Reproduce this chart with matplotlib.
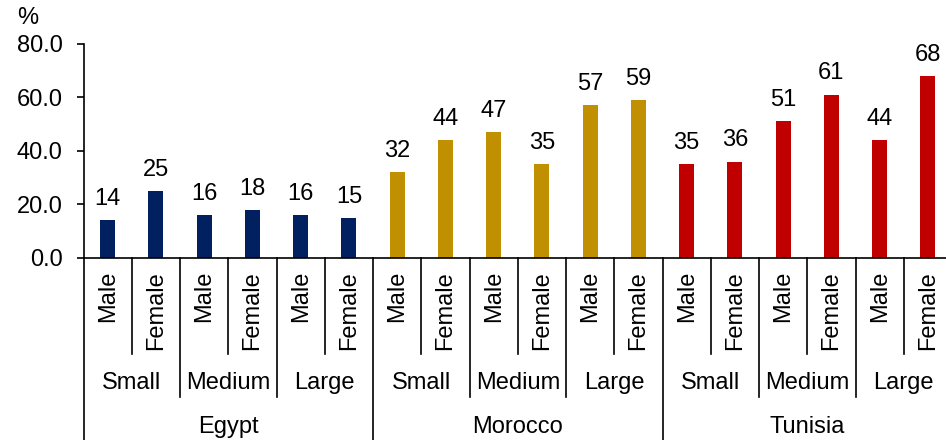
import matplotlib
matplotlib.use("Agg")
import matplotlib.pyplot as plt
import numpy as np

plt.rcParams["font.family"] = ["Liberation Sans", "DejaVu Sans"]

countries = ["Egypt", "Morocco", "Tunisia"]
sizes = ["Small", "Medium", "Large"]
genders = ["Male", "Female"]
country_colors = ["#002060", "#C09000", "#C00000"]

egypt = [14, 25, 16, 18, 16, 15]
morocco = [32, 44, 47, 35, 57, 59]
tunisia = [35, 36, 51, 61, 44, 68]
values = egypt + morocco + tunisia

yticks = [0, 20, 40, 60, 80]

FS = 17
W, H = 946, 440
fig = plt.figure(figsize=(W / 100, H / 100), dpi=100)

# axes box in pixels: x from 83.5 to 952, y from 43.7 (top) to 258 (zero line)
ax_l, ax_r, ax_t, ax_b = 83.5, 952.0, 43.7, 258.0
ax = fig.add_axes([ax_l / W, 1 - ax_b / H, (ax_r - ax_l) / W, (ax_b - ax_t) / H])
ax_h = ax_b - ax_t

n = len(values)
x = np.arange(n)
colors = [country_colors[i // 6] for i in range(n)]
ax.bar(x, values, width=0.31, color=colors, zorder=2)

for xi, v in zip(x, values):
    ax.annotate(f"{v}", (xi, v), xytext=(0, 11), textcoords="offset points",
                ha="center", va="baseline", fontsize=FS)

ax.set_xlim(-0.5, n - 0.5)
ax.set_ylim(0, 80)
ax.set_yticks(yticks)
ax.set_yticklabels([f"{t:.1f}" for t in yticks], fontsize=FS)
ax.tick_params(axis="y", direction="out", length=5, width=1.2, pad=10)
ax.set_xticks([])
for s in ["top", "right"]:
    ax.spines[s].set_visible(False)
for s in ["left", "bottom"]:
    ax.spines[s].set_linewidth(1.2)
    ax.spines[s].set_color("black")

fig.text(28 / W, 1 - 18 / H, "%", ha="center", va="center", fontsize=FS)


def frac(px):
    """Pixel distance below the zero line -> axes fraction."""
    return -(px - ax_b) / ax_h


trans = ax.get_xaxis_transform()
line_kw = dict(color="black", lw=1.2, transform=trans, clip_on=False)

# category labels and separators
for i in range(n):
    ax.text(i, frac(271), genders[i % 2], rotation=90, ha="center", va="top",
            fontsize=FS, transform=trans)

for b in range(n + 1):
    edge = b - 0.5
    if b % 6 == 0:
        bottom = 445
    elif b % 2 == 0:
        bottom = 397
    else:
        bottom = 354
    ax.plot([edge, edge], [0, frac(bottom)], **line_kw)

for g in range(9):
    ax.text(2 * g + 0.5, frac(383), sizes[g % 3], ha="center", va="center",
            fontsize=FS, transform=trans)

for c, name in enumerate(countries):
    ax.text(6 * c + 2.5, frac(427), name, ha="center", va="center",
            fontsize=FS, transform=trans)

fig.savefig("out.png", dpi=100)
